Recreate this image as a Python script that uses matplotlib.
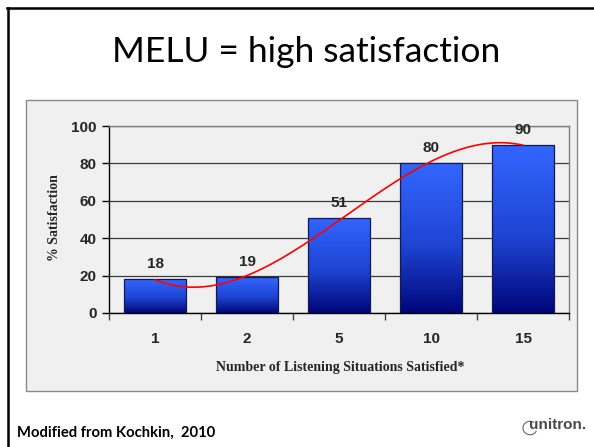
import numpy as np
import matplotlib
matplotlib.use('Agg')
import matplotlib.pyplot as plt
from matplotlib.patches import Rectangle, Arc
from matplotlib.lines import Line2D
from matplotlib.colors import LinearSegmentedColormap

# ---- data ----
categories = ['1', '2', '5', '10', '15']
satisfaction = [18, 19, 51, 80, 90]
y_ticks = [0, 20, 40, 60, 80, 100]
title_text = 'MELU = high satisfaction'
y_label = '% Satisfaction'
x_label = 'Number of Listening Situations Satisfied*'
source_text = 'Modified from Kochkin,  2010'
logo_text = 'unitron.'
trend_degree = 3

W, H = 594, 447
fig = plt.figure(figsize=(W / 100, H / 100), dpi=100)
fig.patch.set_facecolor('white')


def fx(px):
    return px / W


def fy(py):
    return 1 - py / H


# slide border (left and top)
fig.add_artist(Line2D([fx(7.5), fx(7.5)], [fy(447), fy(7.5)], color='black', lw=1.8))
fig.add_artist(Line2D([fx(6.6), fx(594)], [fy(8), fy(8)], color='black', lw=1.8))

# chart box (behind the axes)
box = Rectangle((fx(26), fy(391)), fx(577) - fx(26), fy(100) - fy(391),
                facecolor='#f0f0f0', edgecolor='#8a8a8a', lw=1.0, zorder=-10)
fig.add_artist(box)

# title
fig.text(fx(306), fy(62), title_text, ha='center', va='baseline', fontsize=25.5,
         family='Lato', color='black')

# axes
ax = fig.add_axes([fx(109), fy(313), fx(569) - fx(109), fy(126) - fy(313)])
ax.set_zorder(5)
ax.set_facecolor('#f0f0f0')
x = np.arange(len(categories))

bars = ax.bar(x, satisfaction, width=0.68, color='none', edgecolor='#141850',
              lw=0.9, zorder=3)
cmap = LinearSegmentedColormap.from_list(
    'bluegrad', [(0, '#00067a'), (0.45, '#1e44d2'), (1, '#3366ff')])
grad = np.linspace(0, 1, 256).reshape(-1, 1)
for b in bars:
    x0, y0, w, h = b.get_x(), b.get_y(), b.get_width(), b.get_height()
    im = ax.imshow(grad, extent=[x0, x0 + w, y0, y0 + h], origin='lower',
                   aspect='auto', cmap=cmap, zorder=2.5, interpolation='bilinear')
    im.set_clip_path(b)

# polynomial trendline
coef = np.polyfit(x, satisfaction, trend_degree)
xs = np.linspace(x[0], x[-1], 300)
ax.plot(xs, np.polyval(coef, xs), color='#ff0000', lw=1.2, zorder=4)

# data labels
for i, v in zip(x, satisfaction):
    ax.annotate(str(v), (i, v), xytext=(0, 8), textcoords='offset points',
                ha='center', va='baseline', fontsize=11, fontweight='bold',
                family='Liberation Sans', color='#262626', zorder=5)

ax.set_xlim(-0.5, len(categories) - 0.5)
ax.set_ylim(0, 100)
ax.set_yticks(y_ticks)
ax.set_yticklabels([str(t) for t in y_ticks], fontsize=11, fontweight='bold',
                   family='Liberation Sans', color='#262626')
ax.tick_params(axis='y', direction='out', length=5, width=1, color='black', pad=4)

ax.set_xticks(np.arange(-0.5, len(categories), 1))
ax.set_xticklabels([])
ax.tick_params(axis='x', which='major', direction='out', length=5, width=1, color='#444444')
ax.set_xticks(x, minor=True)
ax.set_xticklabels(categories, minor=True, fontsize=11, fontweight='bold',
                   family='Liberation Sans', color='#262626')
ax.tick_params(axis='x', which='minor', length=0, pad=14)

ax.yaxis.grid(True, color='#3a3a3a', lw=0.9)
ax.set_axisbelow(True)
for s in ['left', 'bottom']:
    ax.spines[s].set_color('black')
    ax.spines[s].set_linewidth(1.0)
for s in ['top', 'right']:
    ax.spines[s].set_color('#808080')
    ax.spines[s].set_linewidth(1.0)

# axis titles
fig.text(fx(55), fy(218), y_label, rotation=90, ha='center', va='center',
         fontsize=10, fontweight='bold', family='Liberation Serif', color='#262626')
fig.text(fx(340), fy(368), x_label, ha='center', va='center',
         fontsize=10, fontweight='bold', family='Liberation Serif', color='#262626')

# footer
fig.text(fx(17), fy(433), source_text, ha='left', va='center', fontsize=10.6,
         fontweight='bold', family='Lato', color='black')
fig.text(fx(586), fy(425), logo_text, ha='right', va='center', fontsize=11,
         fontweight='bold', family='Liberation Sans', color='#4a4a4a')
fig.add_artist(Arc((fx(530), fy(428)), fx(14), 0.03, theta1=60, theta2=330,
                   color='#666666', lw=0.8))

fig.savefig('out.png', dpi=100)
